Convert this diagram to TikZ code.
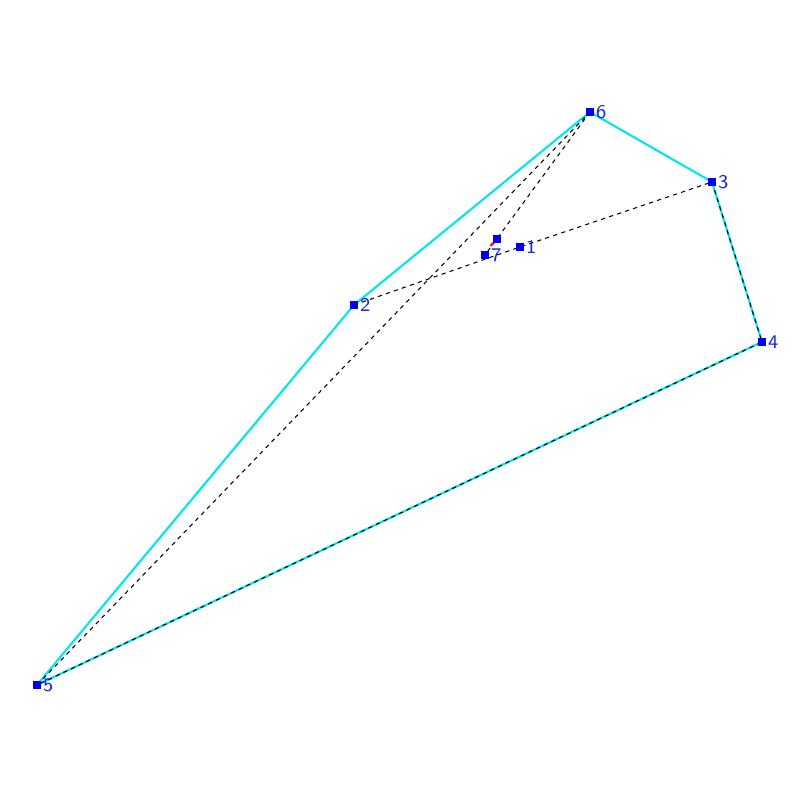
\documentclass[tikz,border=0pt]{standalone}
\usepackage{tikz}
\usetikzlibrary{positioning, backgrounds}
\definecolor{hullcyan}{RGB}{0, 230, 240}
\definecolor{ptblue}{RGB}{0, 0, 245}
\definecolor{lblblue}{RGB}{20, 40, 230}

\begin{document}
\begin{tikzpicture}[
  pt/.style={draw=none, fill=ptblue, minimum size=0.075cm, inner sep=0pt, outer sep=0pt},
  lbl/.style={font=\fontsize{5.5}{6}\sffamily, text=lblblue, inner sep=0.5pt},
  hull/.style={hullcyan, line width=0.6pt},
  chord/.style={black, line width=0.3pt, dash pattern=on 1.2pt off 1.2pt},
]
\useasboundingbox (0,0) rectangle (8,8);

% Points
\node[pt, label={[lbl]right:6}] (v6) at (5.90, 6.88) {};
\node[pt, label={[lbl]right:3}] (v3) at (7.12, 6.18) {};
\node[pt, label={[lbl]right:4}] (v4) at (7.62, 4.58) {};
\node[pt, label={[lbl]right:5}] (v5) at (0.37, 1.15) {};
\node[pt, label={[lbl]right:2}] (v2) at (3.54, 4.95) {};
\node[pt, label={[lbl]right:1}] (v1) at (5.20, 5.53) {};
\node[pt, label={[lbl]right:7}] (v7) at (4.85, 5.45) {};
\node[pt] (p) at (4.97, 5.61) {};
\coordinate (tip) at (4.905, 5.54);

\begin{pgfonlayer}{background}
% Hull
\draw[hull] (v5.center) -- (v2.center) -- (v6.center) -- (v3.center) -- (v4.center) -- cycle;
% Dashed chords
\draw[chord] (v3.center) -- (v4.center) -- (v5.center) -- (v6.center);
\draw[chord] (v6.center) -- (v7.center);
\draw[chord] (v2.center) -- (v1.center) -- (v3.center);
% Red step
\draw[red, line width=0.6pt] (p.center) -- (tip);
\end{pgfonlayer}
\end{tikzpicture}
\end{document}
